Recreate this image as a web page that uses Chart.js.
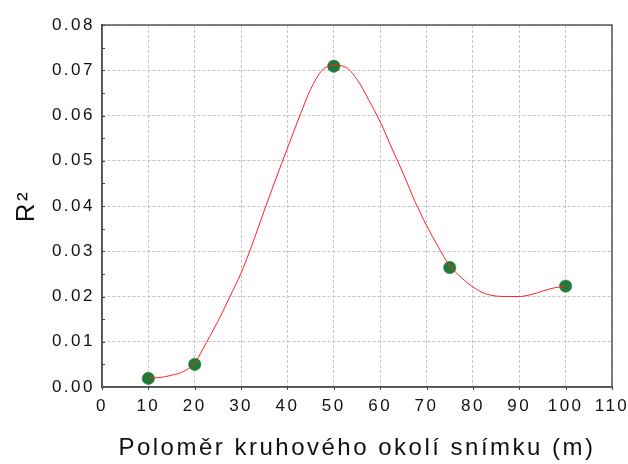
<!DOCTYPE html>
<html>
<head>
<meta charset="utf-8">
<script src="https://cdn.jsdelivr.net/npm/chart.js@4.4.0/dist/chart.umd.min.js"></script>
<style>
  html, body { margin: 0; padding: 0; background: #fff; }
  canvas { display: block; }
</style>
</head>
<body>
<canvas id="myChart" width="628" height="464"></canvas>
<script>
'use strict';

// measured points (green dots)
let radius = [10, 20, 50, 75, 100];
let rSquared = [0.0019, 0.0050, 0.0709, 0.0264, 0.0223];

// smoothed red curve
let curveX = [10, 12.5, 15, 17.5, 20, 22.5, 25, 27.5, 30, 32.5, 35, 37.5, 40, 42.5, 45, 47.5, 50, 52.5, 55, 57.5, 60, 62.5, 65, 67.5, 70, 72.5, 75, 77.5, 80, 82.5, 85, 87.5, 90, 92.5, 95, 97.5, 100];
let curveY = [0.0020, 0.0021, 0.0026, 0.0034, 0.0053, 0.0098, 0.0145, 0.0198, 0.0252, 0.0318, 0.0390, 0.0460, 0.0528, 0.0595, 0.0658, 0.0700, 0.0711, 0.0707, 0.0680, 0.0635, 0.0586, 0.0528, 0.0471, 0.0410, 0.0357, 0.0310, 0.0268, 0.0242, 0.0221, 0.0207, 0.0201, 0.0200, 0.0200, 0.0204, 0.0212, 0.0219, 0.0223];

let xTicks = [0, 10, 20, 30, 40, 50, 60, 70, 80, 90, 100, 110];
let yTicks = [0, 0.01, 0.02, 0.03, 0.04, 0.05, 0.06, 0.07, 0.08];
let yMinorTicks = [0.005, 0.015, 0.025, 0.035, 0.045, 0.055, 0.065, 0.075];

let xTitle = 'Poloměr kruhového okolí snímku (m)';
let yTitle = 'R²';

let fontFamily = '"Liberation Sans", Arial, sans-serif';

let points = [];
for (let i = 0; i < radius.length; i++) {
  points.push({ x: radius[i], y: rSquared[i] });
}
let curve = [];
for (let i = 0; i < curveX.length; i++) {
  curve.push({ x: curveX[i], y: curveY[i] });
}

// wide letter spacing like the original, plus frame and small tick marks
let framePlugin = {
  id: 'frame',
  beforeLayout(chart) {
    chart.ctx.letterSpacing = '2.5px';
  },
  beforeDraw(chart) {
    chart.ctx.letterSpacing = '2.5px';
  },
  afterDraw(chart) {
    let ctx = chart.ctx;
    let area = chart.chartArea;
    let xScale = chart.scales.x;
    let yScale = chart.scales.y;
    ctx.save();
    ctx.strokeStyle = '#555';
    ctx.lineWidth = 1.5;
    ctx.strokeRect(area.left, area.top, area.right - area.left, area.bottom - area.top);
    ctx.lineWidth = 1;
    ctx.strokeStyle = '#444';
    ctx.beginPath();
    yTicks.concat(yMinorTicks).forEach(function (v) {
      let py = Math.round(yScale.getPixelForValue(v)) + 0.5;
      ctx.moveTo(area.left, py);
      ctx.lineTo(area.left + 3, py);
    });
    xTicks.forEach(function (v) {
      let px = Math.round(xScale.getPixelForValue(v)) + 0.5;
      ctx.moveTo(px, area.bottom);
      ctx.lineTo(px, area.bottom + 3);
    });
    ctx.stroke();
    ctx.restore();
  }
};

let ctx = document.getElementById('myChart').getContext('2d');
let myChart = new Chart(ctx, {
  type: 'scatter',
  data: {
    datasets: [{
      label: 'curve',
      data: curve,
      showLine: true,
      borderColor: '#ff2020',
      borderWidth: 1,
      pointRadius: 0,
      cubicInterpolationMode: 'monotone',
      order: 0
    },
    {
      label: 'R2',
      data: points,
      backgroundColor: '#217a3a',
      borderColor: '#217a3a',
      borderWidth: 0.5,
      pointRadius: 6.2,
      showLine: false,
      order: 1
    }]
  },
  plugins: [framePlugin],
  options: {
    responsive: false,
    animation: false,
    layout: {
      padding: { top: 25, right: 16, left: 0, bottom: 0 }
    },
    plugins: {
      legend: { display: false },
      tooltip: { enabled: false }
    },
    scales: {
      x: {
        type: 'linear',
        min: 0,
        max: 110,
        afterBuildTicks: function (scale) {
          scale.ticks = xTicks.map(function (v) { return { value: v }; });
        },
        afterFit: function (scale) {
          scale.height = 77;
          scale.paddingLeft = 0;
          scale.paddingRight = 0;
        },
        ticks: {
          autoSkip: false,
          maxRotation: 0,
          padding: 9,
          color: '#111',
          font: { family: fontFamily, size: 17 },
          callback: function (v) { return String(v); }
        },
        grid: { color: '#c4c4c4', lineWidth: 1, drawTicks: false },
        border: { display: true, color: '#444', width: 1.5, dash: [3, 2] },
        title: {
          display: true,
          text: xTitle,
          color: '#111',
          font: { family: fontFamily, size: 24 },
          padding: { top: 0, bottom: 1 }
        }
      },
      y: {
        type: 'linear',
        min: 0,
        max: 0.08,
        afterBuildTicks: function (scale) {
          scale.ticks = yTicks.map(function (v) { return { value: v }; });
        },
        afterFit: function (scale) {
          scale.width = 102;
          scale.paddingTop = 0;
          scale.paddingBottom = 0;
        },
        ticks: {
          autoSkip: false,
          padding: 7,
          color: '#111',
          font: { family: fontFamily, size: 17 },
          callback: function (v) { return Number(v).toFixed(2); }
        },
        grid: { color: '#c4c4c4', lineWidth: 1, drawTicks: false },
        border: { display: true, color: '#444', width: 1.5, dash: [3, 2] },
        title: {
          display: true,
          text: yTitle,
          color: '#111',
          font: { family: fontFamily, size: 26 },
          padding: { top: 11, bottom: 0 }
        }
      }
    }
  }
});
</script>
</body>
</html>
